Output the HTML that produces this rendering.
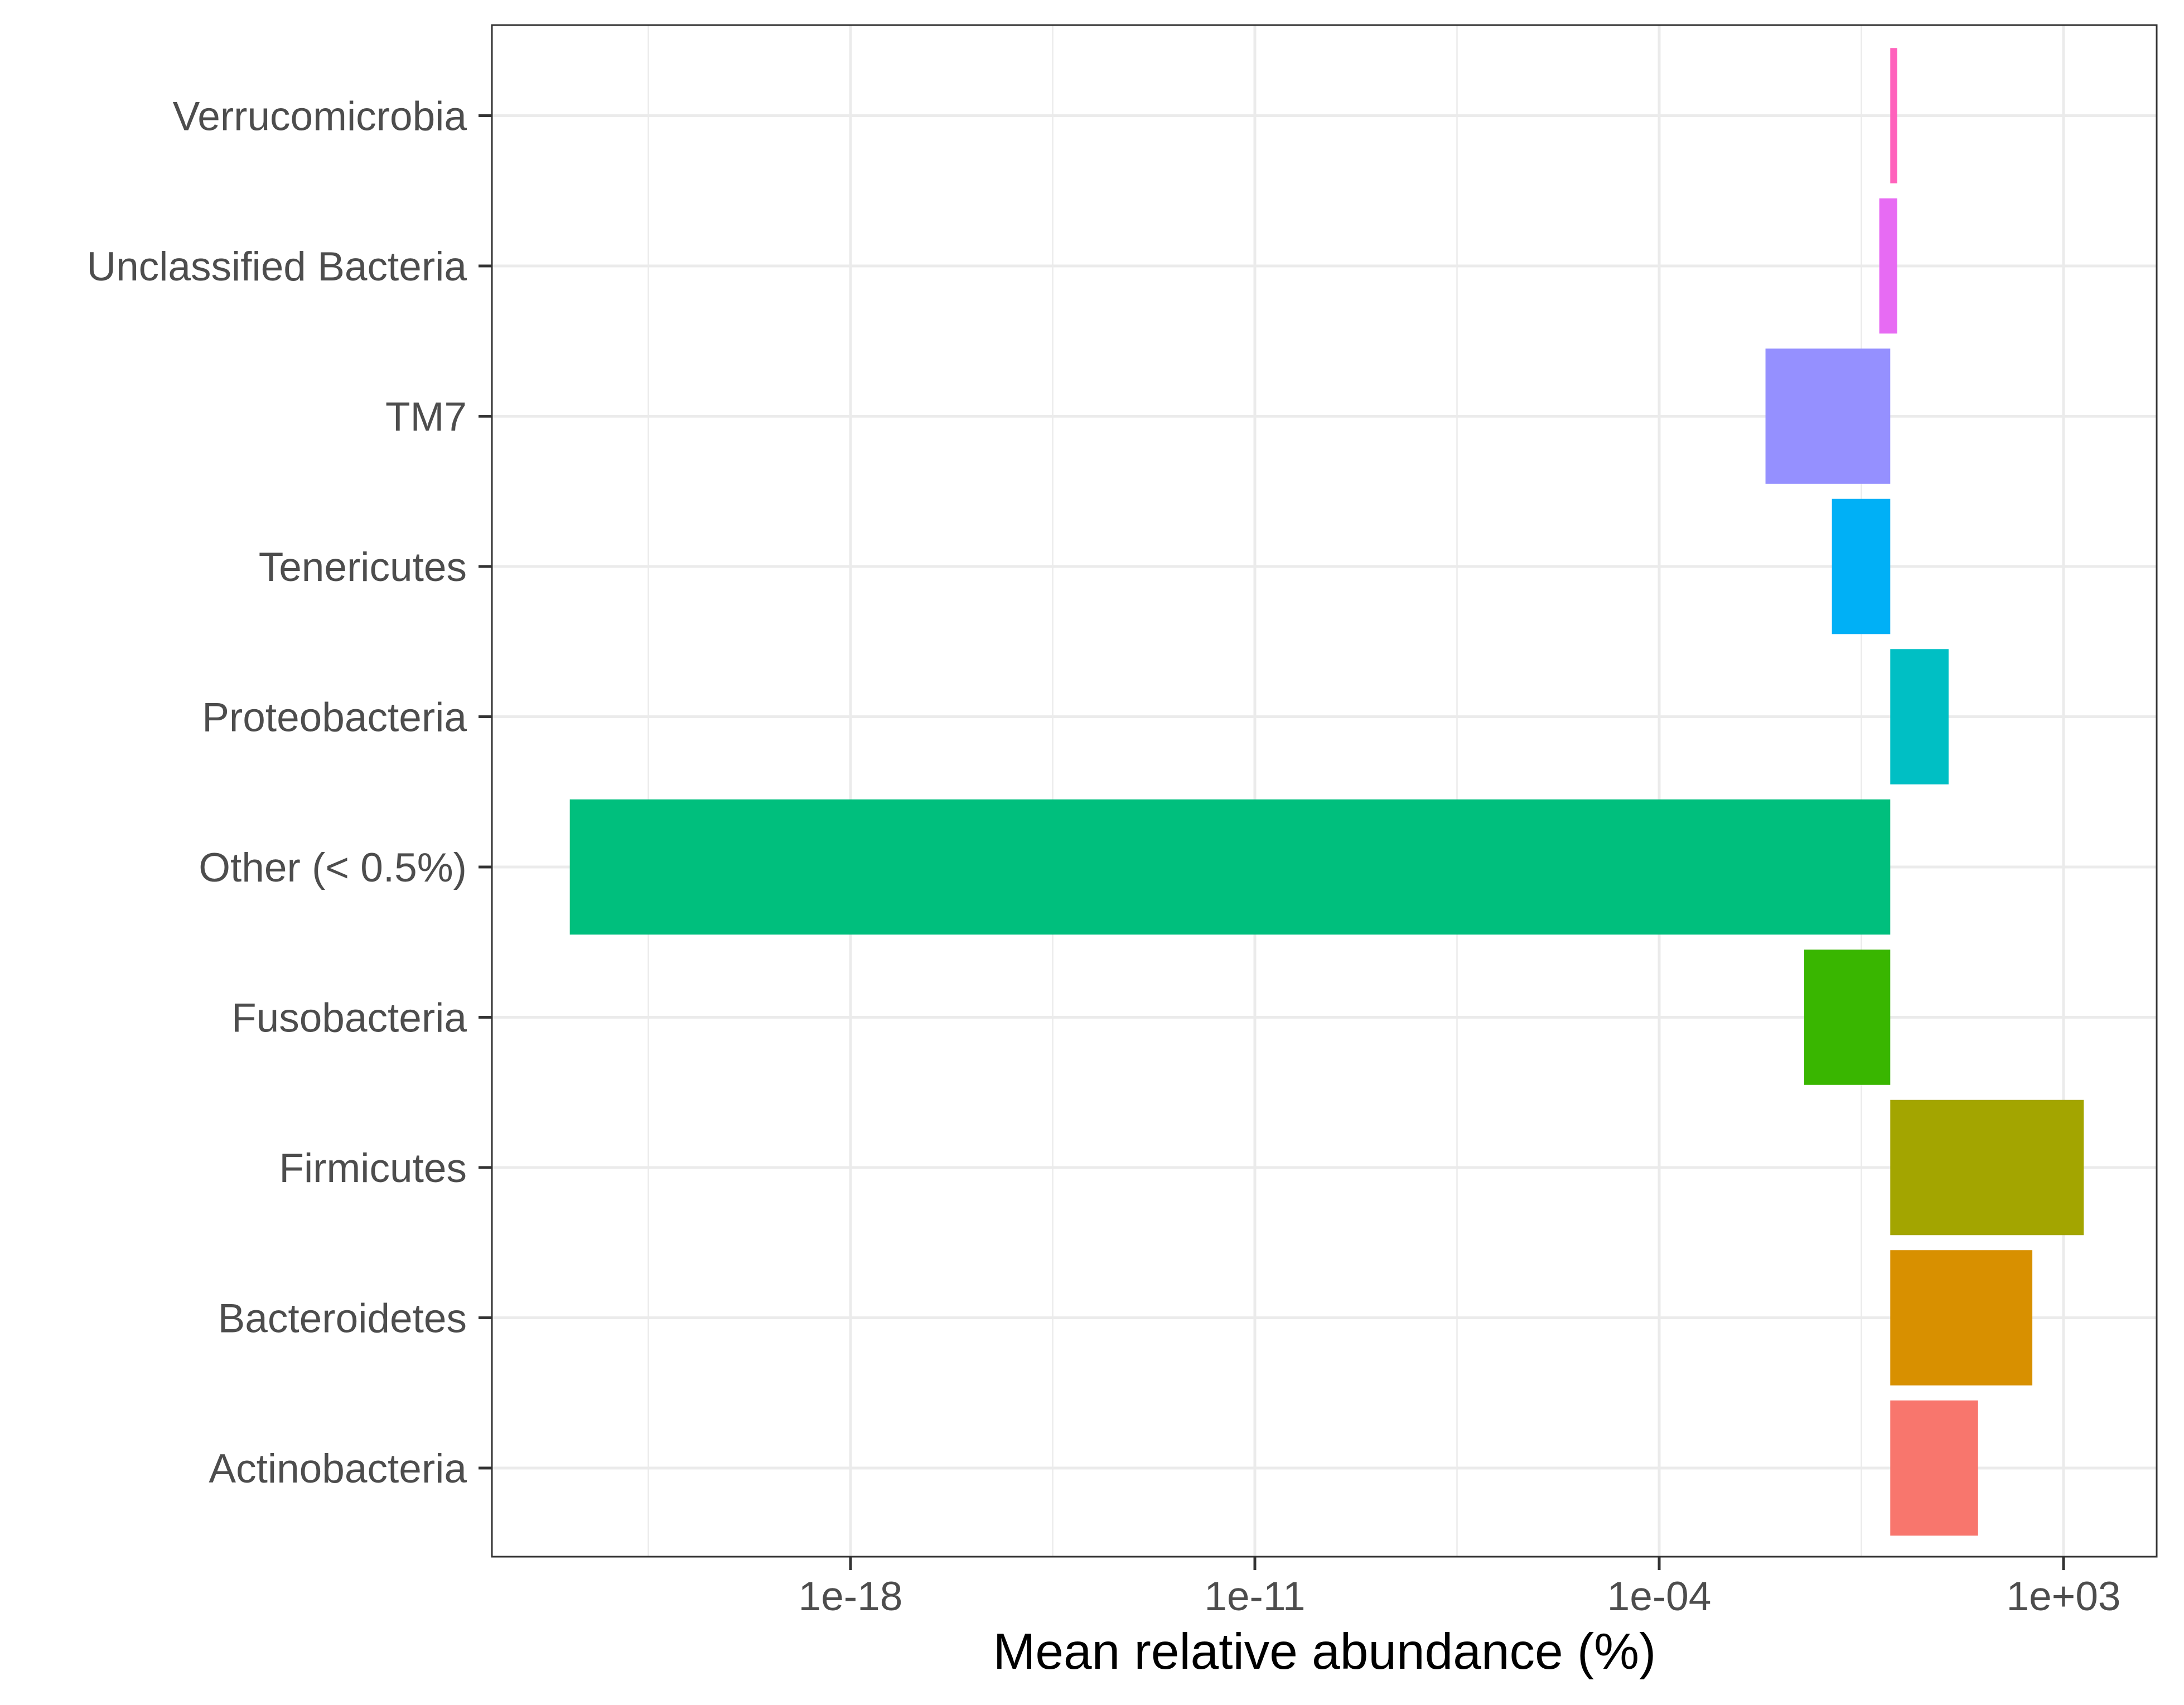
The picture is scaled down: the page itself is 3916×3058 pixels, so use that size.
<!DOCTYPE html>
<html><head><meta charset="utf-8"><style>
html,body{margin:0;padding:0;background:#fff}
svg{display:block}
text{font-family:"Liberation Sans",Arial,sans-serif}
</style></head><body>
<svg id="chart" width="3916" height="3058" viewBox="0 0 3916 3058" xmlns="http://www.w3.org/2000/svg">
<rect x="0" y="0" width="3916" height="3058" fill="#fff"/>
<g id="grid"></g>
<g id="bars"></g>
<rect x="882" y="45" width="2985" height="2747" fill="none" stroke="#333" stroke-width="3"/>
<g id="axes"></g>
<text x="2375" y="2993" text-anchor="middle" font-size="91" fill="#000">Mean relative abundance (%)</text>
</svg>
<script>
const categories = ["Actinobacteria","Bacteroidetes","Firmicutes","Fusobacteria","Other (< 0.5%)","Proteobacteria","Tenericutes","TM7","Unclassified Bacteria","Verrucomicrobia"];
const barStartLog = [0, 0, 0, -1.49, -22.86, 0, -1.01, -2.16, -0.19, 0];
const barEndLog = [1.52, 2.46, 3.35, 0, 0, 1.01, 0, 0, 0.12, 0.12];
const colors = ["#F8766D","#D89000","#A3A500","#39B600","#00BF7D","#00BFC4","#00B0F6","#9590FF","#E76BF3","#FF62BC"];
const xTickLogs = [-18, -11, -4, 3];
const xTickLabels = ["1e-18","1e-11","1e-04","1e+03"];

const NS = "http://www.w3.org/2000/svg";
const L = 882, R = 3867, T = 45, B = 2792;
function xScale(lg){ return 3700 + (lg - 3) * 103.57; }
const step = 269.5;
function yScale(i){ return 2633 - i * step; }
function mk(tag, attrs, parent){ const e = document.createElementNS(NS, tag); for (const k in attrs) e.setAttribute(k, attrs[k]); parent.appendChild(e); return e; }
const grid = document.getElementById('grid'), bars = document.getElementById('bars'), axes = document.getElementById('axes');

for (let i = 0; i < xTickLogs.length + 1; i++) {
  const lg = xTickLogs[0] - 3.5 + i * 7;
  const x = xScale(lg);
  if (x > L && x < R) {
    const ln = mk('line', {x1:x, x2:x, y1:T, y2:B, stroke:'#ebebeb', 'stroke-width':2.5}, grid);
    
    
  }
}
xTickLogs.forEach((lg, i) => {
  const x = xScale(lg);
  const g = mk('line', {x1:x, x2:x, y1:T, y2:B, stroke:'#ebebeb', 'stroke-width':5}, grid);
  
  
  const t = mk('line', {x1:x, x2:x, y1:B, y2:B + 24, stroke:'#333', 'stroke-width':5}, axes);
  
  
  const tx = mk('text', {x:x, y:2888, 'text-anchor':'middle', 'font-size':73, fill:'#4d4d4d'}, axes);
  tx.textContent = xTickLabels[i];
  
  
});
categories.forEach((c, i) => {
  const y = yScale(i);
  const g = mk('line', {x1:L, x2:R, y1:y, y2:y, stroke:'#ebebeb', 'stroke-width':5}, grid);
  
  
  const t = mk('line', {x1:L - 24, x2:L, y1:y, y2:y, stroke:'#333', 'stroke-width':5}, axes);
  
  
  const tx = mk('text', {x:837, y:y + 26, 'text-anchor':'end', 'font-size':73, fill:'#4d4d4d'}, axes);
  tx.textContent = c;
  
  
  const x0 = xScale(barStartLog[i]), x1 = xScale(barEndLog[i]);
  const h = step * 0.9;
  const r = mk('rect', {x:Math.min(x0, x1), y:y - h / 2, width:Math.abs(x1 - x0), height:h, fill:colors[i]}, bars);
  
  
});
</script>
</body></html>
